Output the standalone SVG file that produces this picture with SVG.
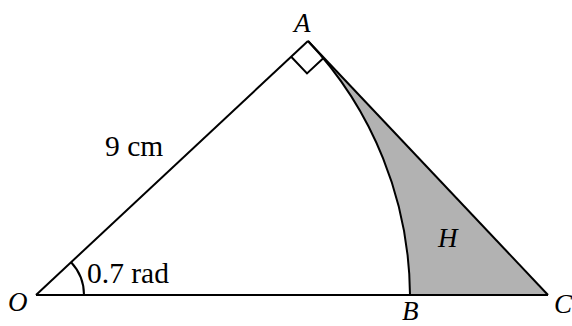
<svg xmlns="http://www.w3.org/2000/svg" width="572" height="326" viewBox="0 0 572 326">
<style>
.ln{fill:none;stroke:#000;stroke-width:2;stroke-linejoin:miter}
.t{font-family:"Liberation Serif","Times New Roman",serif;font-size:29.5px;fill:#000}
.it{font-family:"Liberation Serif","Times New Roman",serif;font-style:italic;font-size:27px;fill:#000}
</style>
<rect width="572" height="326" fill="#fff"/>
<g id="region-H">
<path d="M308,41 A374,374 0 0 1 410,295 L548,295 Z" fill="#b2b2b2" stroke="none"/>
<text class="it" x="438" y="247">H</text>
</g>
<g id="connectors">
<path class="ln" d="M36,295 L548,295"/>
<path class="ln" d="M36,295 L308,41"/>
<path class="ln" d="M308,41 L548,295"/>
<path class="ln" d="M308,41 A374,374 0 0 1 410,295"/>
<path class="ln" d="M291.2,56.7 L307,73.4 L323.8,57.7"/>
<path class="ln" d="M84,295 A48,48 0 0 0 71.1,262.2"/>
</g>
<g id="node-A"><text class="it" x="294" y="32" font-size="24">A</text></g>
<g id="node-O"><text class="it" x="8" y="311">O</text></g>
<g id="node-B"><text class="it" x="402" y="320">B</text></g>
<g id="node-C"><text class="it" x="554" y="313">C</text></g>
<g id="labels">
<text class="t" x="105" y="156">9 cm</text>
<text class="t" x="87" y="283">0.7 rad</text>
</g>
</svg>
